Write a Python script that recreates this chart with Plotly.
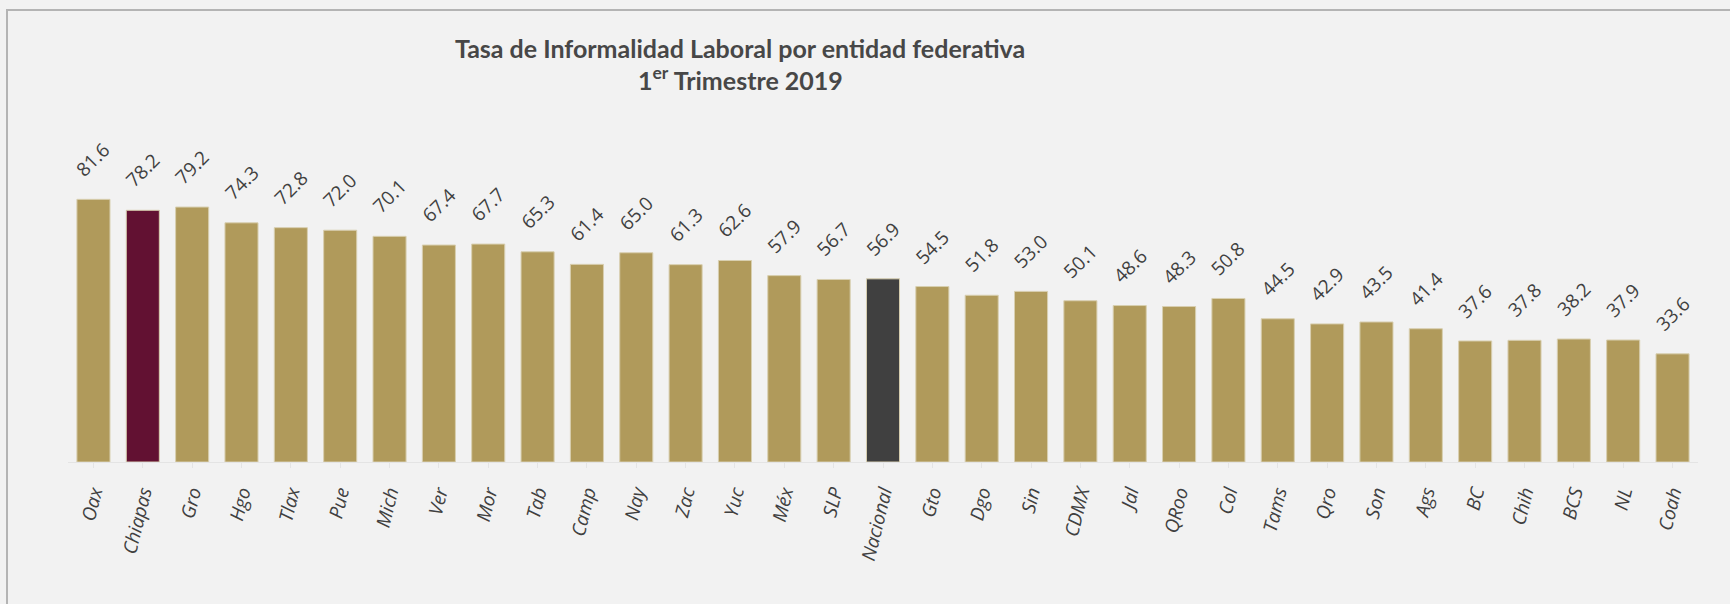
import plotly.graph_objects as go

categories = ["Oax", "Chiapas", "Gro", "Hgo", "Tlax", "Pue", "Mich", "Ver", "Mor", "Tab",
              "Camp", "Nay", "Zac", "Yuc", "Méx", "SLP", "Nacional", "Gto", "Dgo", "Sin",
              "CDMX", "Jal", "QRoo", "Col", "Tams", "Qro", "Son", "Ags", "BC", "Chih",
              "BCS", "NL", "Coah"]
values = [81.6, 78.2, 79.2, 74.3, 72.8, 72.0, 70.1, 67.4, 67.7, 65.3,
          61.4, 65.0, 61.3, 62.6, 57.9, 56.7, 56.9, 54.5, 51.8, 53.0,
          50.1, 48.6, 48.3, 50.8, 44.5, 42.9, 43.5, 41.4, 37.6, 37.8,
          38.2, 37.9, 33.6]
highlight = {"Chiapas": "#621132", "Nacional": "#404040"}
base_color = "#b09a5b"
title_line1 = "Tasa de Informalidad Laboral por entidad federativa"
title_line2 = "1<sup>er</sup> Trimestre 2019"

colors = [highlight.get(c, base_color) for c in categories]
label_text = [f"{v:.1f}" for v in values]

W, H = 1730, 604
ML, MR, MT, MB = 68, 32, 124, 142
YMAX = 105

fig = go.Figure()
fig.add_trace(go.Bar(
    x=categories, y=values,
    marker=dict(color=colors, line=dict(color="#d8cfb0", width=1)),
    hoverinfo="x+y",
))

for c, v, t in zip(categories, values, label_text):
    fig.add_annotation(x=c, y=v, text=t, showarrow=False, textangle=-45,
                       xanchor="center", yanchor="middle", yshift=40,
                       font=dict(family="Open Sans", size=19, color="#404040"))

plot_w = W - ML - MR
plot_h = H - MT - MB
# outer frame (left and top edges visible), pixel positions converted to paper coords
fx0 = (7 - ML) / plot_w
fx1 = (W + 10 - ML) / plot_w
fy1 = (H - MB - 10) / plot_h
fy0 = -(MB + 10) / plot_h
fig.add_shape(type="rect", xref="paper", yref="paper", x0=fx0, x1=fx1, y0=fy0, y1=fy1,
              line=dict(color="#b4b4b4", width=2), fillcolor="rgba(0,0,0,0)", layer="below")

title_font = dict(family="Lato", size=25, color="#474747", weight="bold")
# second title line
fig.add_annotation(xref="paper", yref="paper", x=(740 - ML) / plot_w,
                   y=(H - MB - 78) / plot_h, xanchor="center", yanchor="middle",
                   text=title_line2, showarrow=False, font=title_font)

fig.update_layout(
    width=W, height=H,
    margin=dict(l=ML, r=MR, t=MT, b=MB),
    paper_bgcolor="#f2f2f2", plot_bgcolor="#f2f2f2",
    bargap=0.33,
    showlegend=False,
    title=dict(
        text=title_line1,
        x=740 / W, xanchor="center", y=1 - 49 / H, yanchor="middle",
        font=title_font,
    ),
    xaxis=dict(
        tickangle=-76, showgrid=False, showline=True, linecolor="#e4e4e4", linewidth=1,
        ticks="outside", tickcolor="#e4e4e4", ticklen=5, ticklabelstandoff=6,
        tickfont=dict(family="Open Sans", size=19, color="#404040", style="italic"),
    ),
    yaxis=dict(range=[0, YMAX], visible=False, showgrid=False),
)

fig.write_html("out.html", config={"displayModeBar": False},
               post_script="document.body.style.margin='0';")
